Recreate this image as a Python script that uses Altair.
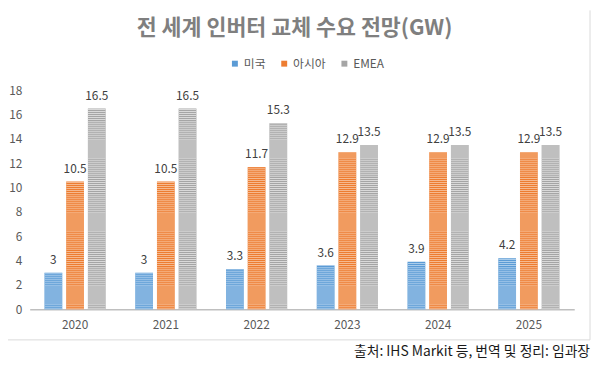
import altair as alt
import pandas as pd

years = ["2020", "2021", "2022", "2023", "2024", "2025"]
series = ["미국", "아시아", "EMEA"]
us = [3, 3, 3.3, 3.6, 3.9, 4.2]
asia = [10.5, 10.5, 11.7, 12.9, 12.9, 12.9]
emea = [16.5, 16.5, 15.3, 13.5, 13.5, 13.5]
y_ticks = list(range(0, 19, 2))

title_text = "전 세계 인버터 교체 수요 전망(GW)"
source_text = "출처: IHS Markit 등, 번역 및 정리: 임과장"

dark = ["#5B9BD5", "#ED7D31", "#A5A5A5"]
light = ["#A9CCEB", "#F6B98E", "#D9D9D9"]

rows = []
for name, vals in zip(series, [us, asia, emea]):
    for yr, v in zip(years, vals):
        rows.append({"year": yr, "series": name, "value": v})
df = pd.DataFrame(rows)

FONT = "Noto Sans CJK KR"

x_axis = alt.Axis(title=None, labelAngle=0, ticks=False, labelPadding=10,
                  domainColor="#BFBFBF", domainWidth=1.5, labelFont=FONT,
                  labelFontSize=12, labelColor="#595959", grid=False)
y_axis = alt.Axis(title=None, values=y_ticks, ticks=False, domain=False, grid=False,
                  labelPadding=8, labelFont=FONT, labelFontSize=12,
                  labelOverlap=False, labelColor="#595959")
x_scale = alt.Scale(paddingInner=0, paddingOuter=0)
xo_enc = alt.XOffset("series:N", sort=series,
                     scale=alt.Scale(domain=series, paddingInner=4 / 22, paddingOuter=15 / 22))
y_scale = alt.Scale(domain=[0, 18], nice=False)

base = alt.Chart(df)

bars = base.mark_bar().encode(
    x=alt.X("year:N", sort=years, scale=x_scale, axis=x_axis),
    xOffset=xo_enc,
    y=alt.Y("value:Q", scale=y_scale, axis=y_axis),
    color=alt.Color("series:N", sort=series, scale=alt.Scale(domain=series, range=dark),
                    legend=alt.Legend(title=None, orient="none", legendX=202, legendY=-33,
                                      direction="horizontal", symbolType="square",
                                      symbolSize=36, symbolStrokeWidth=0,
                                      labelFont=FONT, labelFontSize=12,
                                      labelColor="#595959", columnPadding=12,
                                      labelOffset=3, padding=0)),
)

stripes = base.transform_calculate(base0="0").mark_rule(strokeDash=[1, 1], strokeWidth=18).encode(
    x=alt.X("year:N", sort=years, scale=x_scale, axis=x_axis),
    xOffset=xo_enc,
    y=alt.Y("base0:Q", scale=y_scale, axis=y_axis),
    y2="value:Q",
    color=alt.Color("series:N", sort=series, scale=alt.Scale(domain=series, range=light),
                    legend=None),
)

labels = base.mark_text(dy=-9, baseline="alphabetic", font=FONT, fontSize=12,
                        color="#404040").encode(
    x=alt.X("year:N", sort=years, scale=x_scale, axis=x_axis),
    xOffset=xo_enc,
    y=alt.Y("value:Q", scale=y_scale, axis=y_axis),
    text=alt.Text("value:Q"),
)

one = pd.DataFrame({"t": [source_text], "title": [title_text]})
source = alt.Chart(one).mark_text(align="right", baseline="middle", font=FONT, fontSize=14,
                                  color="#1a1a1a").encode(
    x=alt.value(568), y=alt.value(265), text="t:N")

title = alt.Chart(one).mark_text(align="center", baseline="alphabetic", font=FONT,
                                 fontSize=22, fontWeight="bold", color="#7F7F7F").encode(
    x=alt.value(268.5), y=alt.value(-56), text="title:N")

border_r = alt.Chart(one).mark_rule(color="#D9D9D9", strokeWidth=1).encode(
    x=alt.value(568), y=alt.value(-81), y2=alt.value(253))
border_b = alt.Chart(one).mark_rule(color="#D9D9D9", strokeWidth=1).encode(
    x=alt.value(-22), x2=alt.value(568), y=alt.value(253))

chart = alt.layer(bars, stripes, labels, border_r, border_b, source, title).resolve_scale(
    color="independent"
).properties(
    width=552,
    height=222,
    autosize=alt.AutoSizeParams(type="none"),
    padding={"left": 22, "top": 81, "right": 18, "bottom": 52},
    background="white",
).configure_view(stroke=None)

chart.save("out.html", embed_options={"renderer": "svg", "actions": False})
